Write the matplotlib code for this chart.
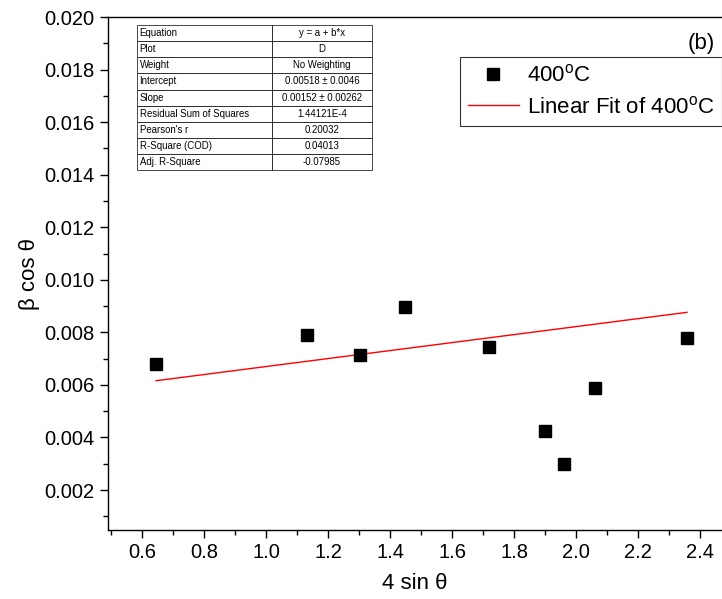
import matplotlib
matplotlib.use("Agg")
import matplotlib.pyplot as plt
from matplotlib.ticker import MultipleLocator, FormatStrFormatter

plt.rcParams['font.family'] = ['Liberation Sans', 'DejaVu Sans']
plt.rcParams['mathtext.fontset'] = 'custom'
plt.rcParams['mathtext.rm'] = 'Liberation Sans'

# data
x_400 = [0.645, 1.132, 1.302, 1.447, 1.718, 1.900, 1.962, 2.062, 2.357]
y_400 = [0.00678, 0.00791, 0.00713, 0.00897, 0.00744, 0.00424, 0.00298, 0.00590, 0.00777]

# linear fit reported in the table
intercept = 0.00518
slope = 0.00152

table_keys = ["Equation", "Plot", "Weight", "Intercept", "Slope",
              "Residual Sum of Squares", "Pearson's r", "R-Square (COD)",
              "Adj. R-Square"]
table_vals = ["y = a + b*x", "D", "No Weighting", "0.00518 \u00b1 0.0046",
              "0.00152 \u00b1 0.00262", "1.44121E-4", "0.20032", "0.04013",
              "-0.07985"]

fig = plt.figure(figsize=(7.22, 5.99), dpi=100)
ax = fig.add_axes([0.1496, 0.1152, 0.8504, 0.8564])

ax.plot(x_400, y_400, 's', color='black', ms=9, label='400$^{\\rm o}$C', zorder=3)
fx = [min(x_400), max(x_400)]
fy = [intercept + slope * v for v in fx]
ax.plot(fx, fy, '-', color='red', lw=1.0, label='Linear Fit of 400$^{\\rm o}$C')

ax.set_xlim(0.49, 2.47)
ax.set_ylim(0.00048, 0.020)
ax.xaxis.set_major_locator(MultipleLocator(0.2))
ax.xaxis.set_minor_locator(MultipleLocator(0.1))
ax.yaxis.set_major_locator(MultipleLocator(0.002))
ax.yaxis.set_minor_locator(MultipleLocator(0.001))
ax.xaxis.set_major_formatter(FormatStrFormatter('%.1f'))
ax.yaxis.set_major_formatter(FormatStrFormatter('%.3f'))
ax.tick_params(which='major', direction='out', length=6, width=1, labelsize=14.5)
ax.tick_params(which='minor', direction='out', length=3.5, width=1)
ax.spines['right'].set_visible(False)
for s in ['left', 'bottom', 'top']:
    ax.spines[s].set_linewidth(1)

ax.set_xlabel('4 sin \u03b8', fontsize=16, labelpad=8)
ax.set_ylabel('\u03b2 cos \u03b8', fontsize=16, labelpad=3)

leg = ax.legend(loc='upper right', bbox_to_anchor=(1.0, 0.922), borderaxespad=0,
                fancybox=False, edgecolor='black', fontsize=16, handlelength=2.3,
                borderpad=0.35, labelspacing=0.42, handletextpad=0.35)
leg.get_frame().set_linewidth(0.8)

ax.text(0.988, 0.948, '(b)', transform=ax.transAxes, ha='right', va='center', fontsize=16)

tbl = ax.table(cellText=[[k, v] for k, v in zip(table_keys, table_vals)],
               cellLoc='center', colWidths=[0.574, 0.426],
               bbox=[0.047, 0.702, 0.383, 0.282])
tbl.auto_set_font_size(False)
tbl.set_fontsize(6.9)
for (r, c), cell in tbl.get_celld().items():
    cell.set_linewidth(0.5)
    if c == 0:
        cell.set_text_props(ha='left')
        cell._loc = 'left'
        cell.PAD = 0.02

fig.savefig('out.png', dpi=100)
